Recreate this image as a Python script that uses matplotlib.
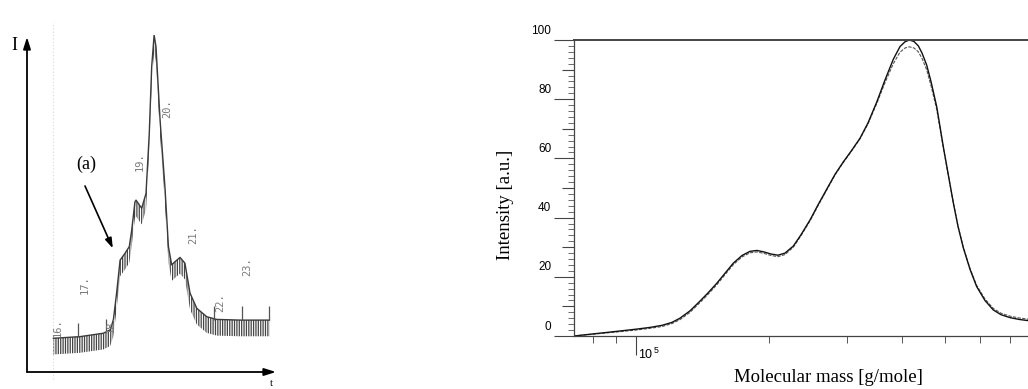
import numpy as np
import matplotlib
matplotlib.use("Agg")
import matplotlib.pyplot as plt
from matplotlib.ticker import FixedLocator, NullFormatter, FixedFormatter
from matplotlib.transforms import ScaledTranslation

# ---------------- data: left panel (chromatogram, time in min) ----------------
chrom_time = [15.83, 16.82, 17.68, 17.93, 18.05, 18.17, 18.30, 18.48, 18.64, 18.73,
              18.85, 18.89, 19.01, 19.10, 19.26, 19.38, 19.47, 19.56, 19.63, 19.78,
              19.96, 20.09, 20.21, 20.33, 20.52, 20.70, 20.89, 21.14, 21.51, 21.88,
              22.74, 23.83]
chrom_intensity = [10.0, 10.5, 11.5, 12.5, 15.4, 23.4, 33.2, 35.2, 37.2, 42.1,
                   50.5, 51.0, 49.6, 48.6, 53.0, 70.8, 90.6, 100.0, 96.5, 74.8,
                   55.0, 37.2, 31.8, 32.7, 34.0, 32.3, 23.4, 18.9, 16.4, 15.6,
                   15.4, 15.4]
fraction_labels = ["16.", "17.", "18.", "19.", "20.", "21.", "22.", "23."]
fraction_time = [16.0, 17.0, 17.96, 19.04, 20.04, 21.0, 22.0, 23.0]
fraction_level = [13.1, 25.8, 14.5, 62.3, 78.3, 40.7, 20.5, 31.2]
marker_time = [16.75, 17.76, 21.79, 22.80, 23.82]
marker_base = [10.4, 11.9, 15.4, 15.4, 15.4]
marker_top = [14.5, 15.7, 19.6, 19.6, 19.6]

# ---------------- data: right panel (molecular mass distribution) ----------------
mass = [72400, 79900, 89600, 100000, 107600, 114500, 120600, 125700, 132500, 139600,
        145600, 152300, 159000, 166000, 173700, 181100, 187800, 194800, 202000, 209500,
        217300, 227000, 236200, 247600, 258100, 270100, 282000, 294400, 306500, 321200,
        334900, 350400, 365900, 382100, 395700, 406100, 415300, 425600, 435300, 443700,
        454700, 464900, 479000, 495700, 508100, 522300, 535300, 550200, 569800, 589800,
        615900, 643200, 669500, 702000, 735600, 770900, 807700]
intensity_solid = [0.0, 0.7, 1.5, 2.3, 2.9, 3.6, 4.6, 6.0, 8.5, 11.8,
                   14.6, 17.8, 21.2, 24.6, 27.2, 28.6, 28.9, 28.4, 27.7, 27.3,
                   28.0, 30.4, 34.2, 39.2, 44.3, 49.6, 54.6, 58.8, 62.4, 66.8,
                   72.0, 79.0, 86.5, 93.5, 97.8, 99.4, 100.0, 99.5, 98.0, 95.6,
                   91.5, 86.0, 77.5, 64.0, 55.0, 45.0, 37.0, 29.8, 22.5, 16.7,
                   12.0, 8.8, 7.2, 6.2, 5.6, 5.2, 5.0]
intensity_dashed = [0.0, 0.6, 1.3, 2.0, 2.6, 3.2, 4.2, 5.5, 8.0, 11.3,
                    14.1, 17.3, 20.7, 24.1, 26.7, 28.1, 28.4, 27.9, 27.2, 26.8,
                    27.5, 30.0, 33.9, 38.9, 44.0, 49.3, 54.4, 58.6, 62.2, 66.6,
                    71.7, 78.5, 85.6, 92.0, 95.9, 97.3, 97.7, 97.3, 96.0, 93.8,
                    89.9, 84.6, 76.6, 63.6, 54.8, 45.0, 37.1, 30.0, 22.8, 17.1,
                    12.5, 9.3, 7.7, 6.7, 6.1, 5.7, 5.5]
y_ticks = [0, 10, 20, 30, 40, 50, 60, 70, 80, 90, 100]
y_tick_labels = ["0", "", "20", "", "40", "", "60", "", "80", "", "100"]
x_major = [1e5]
x_major_labels = [r"$10^{\,5}$"]
x_minor = [8e4, 9e4, 2e5, 3e5, 4e5, 5e5, 6e5, 7e5, 8e5]

# ---------------- figure ----------------
plt.rcParams["font.family"] = ["Liberation Sans", "DejaVu Sans"]
plt.rcParams["mathtext.default"] = "regular"
plt.rcParams["hatch.linewidth"] = 0.9

W, H = 1028, 389
fig = plt.figure(figsize=(W / 100, H / 100), dpi=100)


def fx(px):
    return px / W


def fy(py):
    return 1 - py / H


SERIF = ["Liberation Serif", "DejaVu Serif"]

# ---------- left panel ----------
axl = fig.add_axes([fx(27), fy(372), fx(276) - fx(27), fy(35) - fy(372)])
axl.set_xlim(14.852, 24.074)
axl.set_ylim(0, 100)
axl.axis("off")

# faint scanner trace
axl.axvline(15.815, ymin=-0.02, ymax=1.04, color="#d8d8d8", lw=0.8, ls=(0, (1, 2)),
            clip_on=False)

ti = np.array(chrom_time)
ci = np.array(chrom_intensity)
axl.fill_between(ti, ci - 4.8, ci, facecolor="none", edgecolor="#444444",
                 hatch="|||||||", linewidth=0)
axl.plot(ti, ci, color="#3a3a3a", lw=1.0)
axl.vlines(marker_time, marker_base, marker_top, color="#555555", lw=0.9)

for lab, t, lv in zip(fraction_labels, fraction_time, fraction_level):
    axl.text(t, lv, lab, rotation=90, ha="center", va="center",
             fontsize=7.5, color="#7a7a7a", family=["DejaVu Sans Mono"])

# axes arrows
axl.annotate("", xy=(0, 0.994), xytext=(0, 0), xycoords="axes fraction",
             arrowprops=dict(arrowstyle="-|>,head_length=0.7,head_width=0.22",
                             color="black", lw=1.3, shrinkA=0, shrinkB=0))
axl.annotate("", xy=(1.0, 0), xytext=(0, 0), xycoords="axes fraction",
             arrowprops=dict(arrowstyle="-|>,head_length=0.7,head_width=0.22",
                             color="black", lw=1.3, shrinkA=0, shrinkB=0))

# annotation (a)
axl.text(17.04, 61.7, "(a)", ha="center", va="center", fontsize=13, family=SERIF)
axl.annotate("", xy=(18.03, 36.7), xytext=(17.0, 55.2), xycoords="data",
             arrowprops=dict(arrowstyle="-|>,head_length=0.6,head_width=0.2",
                             color="black", lw=1.2, shrinkA=0, shrinkB=0))

fig.text(fx(14), fy(46), "I", ha="center", va="center", fontsize=13, family=SERIF)
fig.text(fx(271), fy(384), "t", ha="center", va="center", fontsize=8, family=SERIF)

# ---------- right panel ----------
axr = fig.add_axes([fx(574), fy(336), fx(1040) - fx(574), fy(40) - fy(336)])
axr.set_xscale("log")
axr.set_xlim(72400, 10 ** (5 + 404 / 442))
axr.set_ylim(0, 100)

axr.plot(mass, intensity_dashed, color="#555555", lw=0.8, ls=(0, (3, 1.2)))
axr.plot(mass, intensity_solid, color="#111111", lw=1.0)

for side in ["left", "bottom", "top"]:
    axr.spines[side].set_color("#444444")
    axr.spines[side].set_linewidth(0.9)
axr.spines["top"].set_linewidth(1.4)
axr.spines["right"].set_visible(False)

axr.yaxis.set_major_locator(FixedLocator(y_ticks))
axr.yaxis.set_major_formatter(FixedFormatter(y_tick_labels))
axr.yaxis.set_minor_locator(FixedLocator(np.arange(0, 101, 2)))
axr.tick_params(axis="y", which="major", direction="out", length=14.4, width=0.8,
                pad=2, labelsize=8.5, color="#444444")
axr.tick_params(axis="y", which="minor", direction="out", length=4.3, width=0.6,
                color="#555555")
for v, tk in zip(y_ticks, axr.yaxis.get_major_ticks()):
    if v % 20:
        tk.tick1line.set_markersize(8.6)
for lbl in axr.get_yticklabels():
    lbl.set_transform(lbl.get_transform() + ScaledTranslation(0, 0.11, fig.dpi_scale_trans))

axr.xaxis.set_major_locator(FixedLocator(x_major))
axr.xaxis.set_major_formatter(FixedFormatter(x_major_labels))
axr.xaxis.set_minor_locator(FixedLocator(x_minor))
axr.xaxis.set_minor_formatter(NullFormatter())
axr.tick_params(axis="x", which="major", direction="out", length=13.7, width=0.8,
                pad=-6, labelsize=9, color="#444444")
axr.tick_params(axis="x", which="minor", direction="out", length=5, width=0.7,
                color="#555555")
for lbl in axr.get_xticklabels():
    lbl.set_horizontalalignment("left")
    lbl.set_transform(lbl.get_transform() + ScaledTranslation(0.02, 0, fig.dpi_scale_trans))

fig.text(fx(505), fy(205), "Intensity [a.u.]", rotation=90, ha="center", va="center",
         fontsize=13.5, family=SERIF)
fig.text(fx(828), fy(378), "Molecular mass [g/mole]", ha="center", va="center",
         fontsize=13.5, family=SERIF)

fig.savefig("out.png", dpi=100)
